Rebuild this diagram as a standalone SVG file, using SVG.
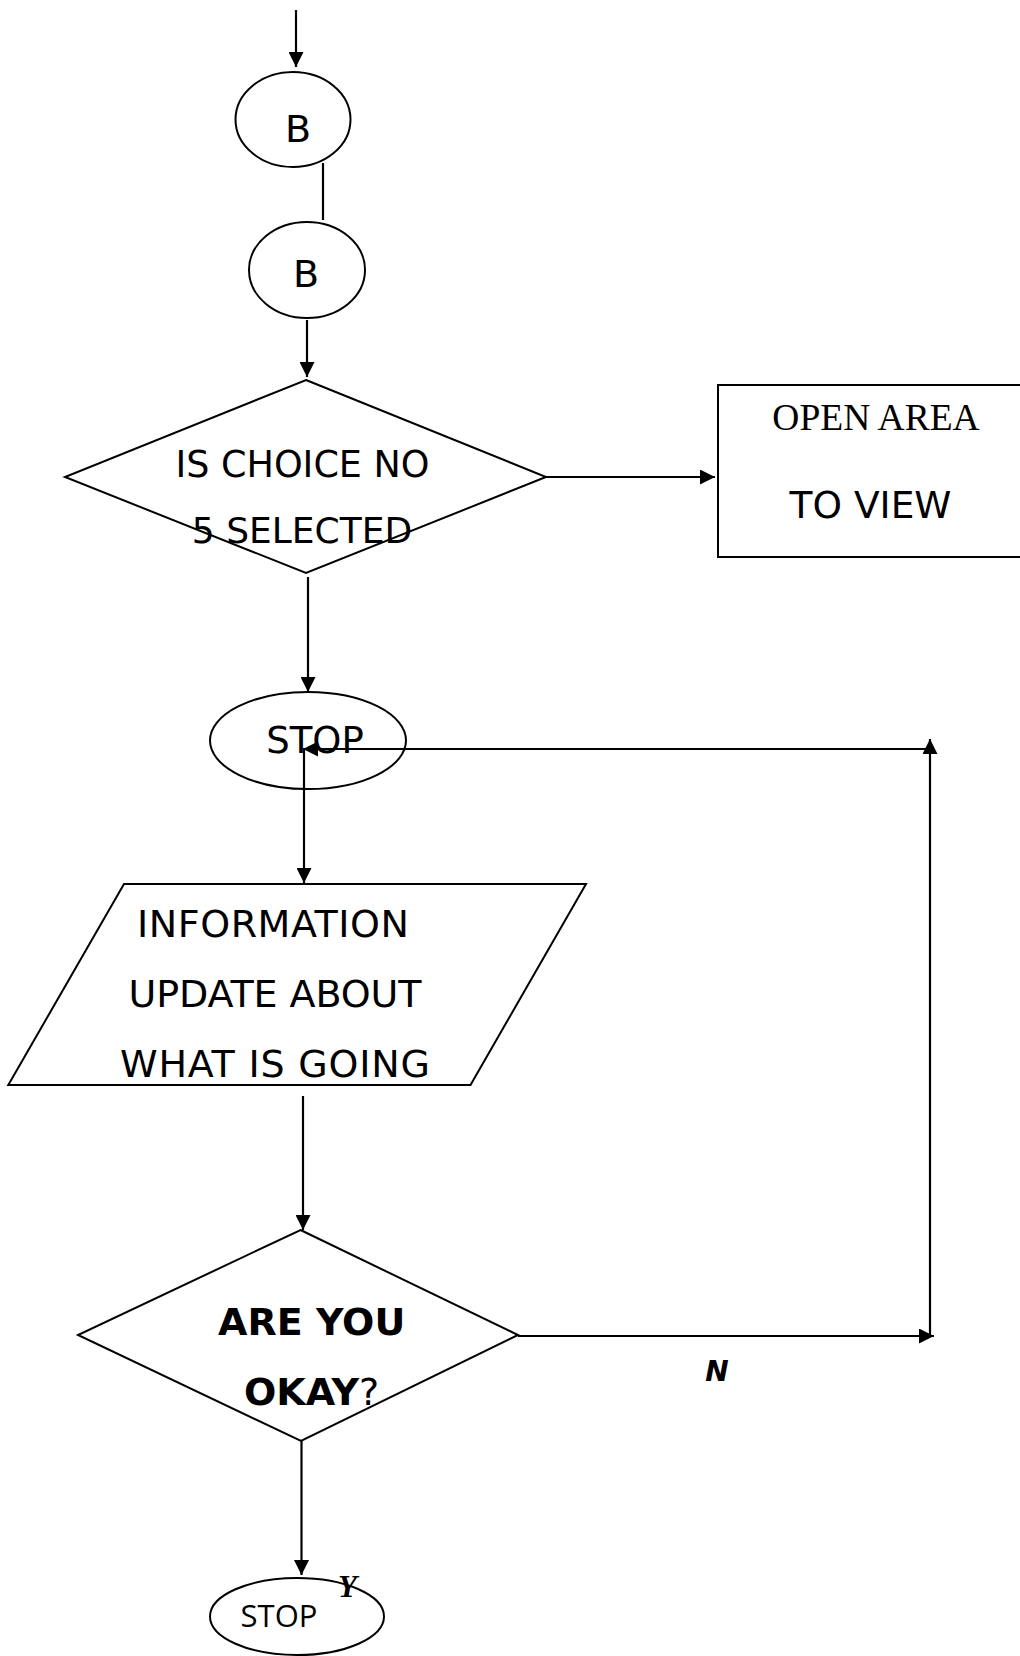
<svg xmlns="http://www.w3.org/2000/svg" width="1020" height="1656" viewBox="0 0 1020 1656">
<style>
.shape{fill:none;stroke:#000;stroke-width:2}
.conn{fill:none;stroke:#000;stroke-width:2.2}
.t{font-family:"DejaVu Sans",Verdana,sans-serif;font-size:37px;fill:#000;text-anchor:middle}
.b{font-weight:bold}
</style>
<defs>
<marker id="arr" viewBox="0 0 10 10" refX="10" refY="5" markerWidth="16" markerHeight="15" markerUnits="userSpaceOnUse" orient="auto">
<path d="M0,0 L10,5 L0,10 z" fill="#000"/>
</marker>
</defs>
<rect width="1020" height="1656" fill="#fff"/>
<g id="connectors">
<line class="conn" x1="296" y1="10" x2="296" y2="67" marker-end="url(#arr)"/>
<line class="conn" x1="323" y1="163" x2="323" y2="220"/>
<line class="conn" x1="307" y1="320" x2="307" y2="377" marker-end="url(#arr)"/>
<line class="conn" x1="546" y1="477" x2="715" y2="477" marker-end="url(#arr)"/>
<line class="conn" x1="308" y1="577" x2="308" y2="692" marker-end="url(#arr)"/>
<line class="conn" x1="518" y1="1336" x2="934" y2="1336" marker-end="url(#arr)"/>
<line class="conn" x1="930" y1="1336" x2="930" y2="739" marker-end="url(#arr)"/>
<line class="conn" x1="930" y1="749" x2="303" y2="749" marker-end="url(#arr)"/>
<line class="conn" x1="304" y1="749" x2="304" y2="883" marker-end="url(#arr)"/>
<line class="conn" x1="303" y1="1096" x2="303" y2="1230" marker-end="url(#arr)"/>
<line class="conn" x1="301.5" y1="1441" x2="301.5" y2="1575" marker-end="url(#arr)"/>
<text x="717" y="1381" style="font-family:'DejaVu Sans',sans-serif;font-size:28px;font-weight:bold;font-style:italic;text-anchor:middle">N</text>
<text x="338" y="1597" style="font-family:'Liberation Serif','Times New Roman',serif;font-size:31px;font-weight:bold;font-style:italic">Y</text>
</g>
<g id="b1">
<ellipse class="shape" cx="293" cy="119.5" rx="57.5" ry="47.5"/>
<text class="t" x="298" y="142" style="font-size:38px">B</text>
</g>
<g id="b2">
<ellipse class="shape" cx="307" cy="270" rx="58" ry="48"/>
<text class="t" x="306" y="287" style="font-size:38px">B</text>
</g>
<g id="choice">
<polygon class="shape" points="306,380 546,477 306,573 65,477"/>
<text class="t" x="302.5" y="477" style="font-size:36.5px">IS CHOICE NO</text>
<text class="t" x="302" y="543" style="font-size:36px">5 SELECTED</text>
</g>
<g id="openarea">
<path class="shape" d="M1020,385 H718 V557 H1020"/>
<text x="876" y="430" style="font-family:'Liberation Serif','Times New Roman',serif;font-size:37.5px;text-anchor:middle">OPEN AREA</text>
<text class="t" x="870.5" y="518" style="font-size:37.5px">TO VIEW</text>
</g>
<g id="stop1">
<ellipse class="shape" cx="308" cy="740.5" rx="98" ry="48.5"/>
<text class="t" x="315" y="753">STOP</text>
</g>
<g id="info">
<polygon class="shape" points="124,884 586,884 470.5,1085 8.3,1085"/>
<text class="t" x="273" y="937" style="font-size:38px" textLength="272" lengthAdjust="spacing">INFORMATION</text>
<text class="t" x="275" y="1007" style="font-size:38px" textLength="293" lengthAdjust="spacing">UPDATE ABOUT</text>
<text class="t" x="275" y="1077" style="font-size:38px" textLength="310" lengthAdjust="spacing">WHAT IS GOING</text>
</g>
<g id="okay">
<polygon class="shape" points="300.5,1230 518,1335 301,1441 78,1335"/>
<text class="t b" x="311.7" y="1335" style="font-size:38px">ARE YOU</text>
<text class="t" x="244" y="1405" style="text-anchor:start;font-size:38px"><tspan font-weight="bold">OKAY</tspan>?</text>
</g>
<g id="stop2">
<ellipse class="shape" cx="297" cy="1616.5" rx="87" ry="38.5"/>
<text x="279" y="1627" style="font-family:'Open Sans','Noto Sans',sans-serif;font-size:31px;text-anchor:middle">STOP</text>
</g>
</svg>
